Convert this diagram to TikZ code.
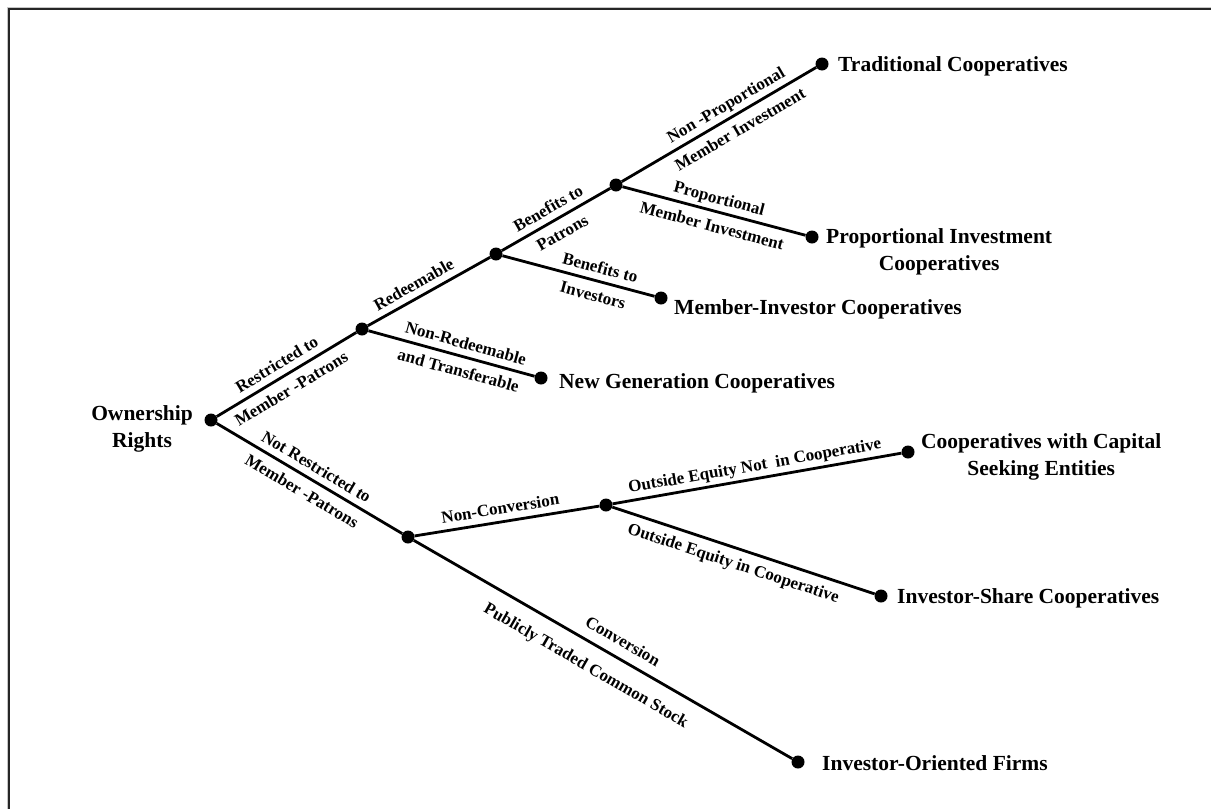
\documentclass[tikz,border=0pt]{standalone}
\usepackage{fontspec}
\setmainfont{Liberation Serif}
\begin{document}
\begin{tikzpicture}[x=1pt,y=-1pt,
  dot/.style={circle,fill=black,inner sep=0pt,minimum size=13pt},
  edge/.style={line width=2.8pt},
  lbl/.style={font=\fontsize{17}{20}\selectfont\bfseries, sloped, inner sep=0pt, text height=12pt, text depth=4pt},
  up/.style={lbl, above=2.5pt},
  dn/.style={lbl, below=7pt},
  leaf/.style={font=\fontsize{21.5}{27}\selectfont\bfseries, inner sep=0pt},
]
\useasboundingbox (0,0) rectangle (1211,809);
\draw[gray!45, line width=1pt] (7.5,809) -- (7.5,7.5) -- (1211,7.5);
\draw[black!85, line width=2pt] (9.3,809) -- (9.3,9.3) -- (1211,9.3);

% dots
\node[dot] (r) at (211,420) {};
\node[dot] (a) at (362,329) {};
\node[dot] (b) at (496,254) {};
\node[dot] (c) at (616,185) {};
\node[dot] (t) at (822,64) {};
\node[dot] (p) at (812,237) {};
\node[dot] (mi) at (661,298) {};
\node[dot] (ng) at (541,378) {};
\node[dot] (d) at (408,537) {};
\node[dot] (e) at (606,505) {};
\node[dot] (cs) at (908,452) {};
\node[dot] (is) at (881,596) {};
\node[dot] (io) at (798,762) {};

% edges
\draw[edge] (r) -- node[up,pos=.48]{Restricted to} node[dn,pos=.48]{Member -Patrons} (a);
\draw[edge] (a) -- node[up,pos=.43]{Redeemable} (b);
\draw[edge] (b) -- node[up,pos=.49]{Benefits to} node[dn,pos=.49]{Patrons} (c);
\draw[edge] (c) -- node[up,pos=.57]{Non -Proportional} node[dn,pos=.57]{Member Investment} (t);
\draw[edge] (c) -- node[up,pos=.51]{Proportional} node[dn,pos=.51]{Member Investment} (p);
\draw[edge] (b) -- node[up,pos=.62]{Benefits to} node[dn,pos=.62]{Investors} (mi);
\draw[edge] (a) -- node[up,pos=.565]{Non-Redeemable} node[dn,pos=.565]{and Transferable} (ng);
\draw[edge] (r) -- node[up,pos=.5]{Not Restricted to} node[dn,pos=.5]{Member -Patrons} (d);
\draw[edge] (d) -- node[up,pos=.475]{Non-Conversion} (e);
\draw[edge] (e) -- node[up,pos=.5]{Outside Equity Not\ \ in Cooperative} (cs);
\draw[edge] (e) -- node[dn,pos=.48]{Outside Equity in Cooperative} (is);
\draw[edge] (d) -- node[lbl,above=6pt,pos=.53]{Conversion} node[lbl,below=14pt,pos=.485]{Publicly Traded Common Stock} (io);

% leaf labels
\node[leaf, align=center, anchor=east] (lr) at (193,429) {Ownership\\Rights};
\node[leaf, anchor=base west] (lt) at (838,71.5) {Traditional Cooperatives};
\node[leaf, align=center, anchor=west] (lp) at (826,252) {Proportional Investment\\Cooperatives};
\node[leaf, anchor=base west] (lmi) at (674,314.5) {Member-Investor Cooperatives};
\node[leaf, anchor=base west] (lng) at (559,388) {New Generation Cooperatives};
\node[leaf, align=center, anchor=west] (lcs) at (921,457) {Cooperatives with Capital\\Seeking Entities};
\node[leaf, anchor=base west] (lis) at (897,603) {Investor-Share Cooperatives};
\node[leaf, anchor=base west] (lio) at (822,770) {Investor-Oriented Firms};
\end{tikzpicture}
\end{document}
